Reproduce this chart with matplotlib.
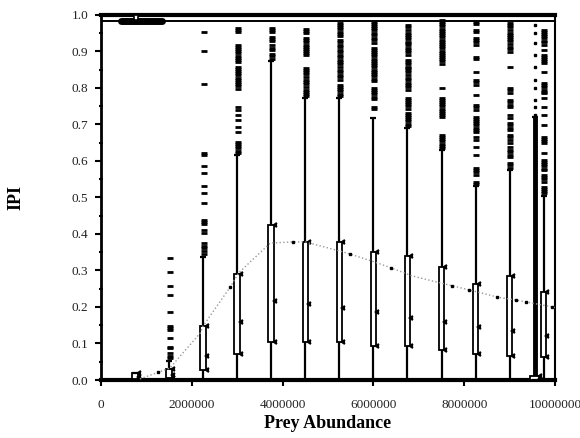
import matplotlib
matplotlib.use("Agg")
import matplotlib.pyplot as plt
from matplotlib.patches import Rectangle

plt.rcParams['font.family'] = ['Liberation Serif', 'DejaVu Serif']

# box positions (prey abundance) and quantiles
xpos = [750000, 1500000, 2250000, 3000000, 3750000, 4500000, 5250000,
        6000000, 6750000, 7500000, 8250000, 9000000, 9550000, 9750000]
q1 = [0.003, 0.006, 0.027, 0.071, 0.103, 0.103, 0.103, 0.094, 0.094, 0.081, 0.072, 0.067, 0.0, 0.062]
med = [0.008, 0.014, 0.066, 0.159, 0.216, 0.208, 0.197, 0.185, 0.171, 0.160, 0.146, 0.134, 0.004, 0.121]
q3 = [0.018, 0.030, 0.148, 0.290, 0.423, 0.377, 0.377, 0.350, 0.340, 0.308, 0.264, 0.285, 0.012, 0.241]
wlo = [0.0] * 14
whi = [0.018, 0.052, 0.338, 0.616, 0.872, 0.772, 0.772, 0.717, 0.690, 0.630, 0.530, 0.575, 0.720, 0.505]

# outliers per box
outliers = [
    [],
    [0.335, 0.297, 0.256, 0.233, 0.185, 0.148, 0.143, 0.137, 0.114, 0.091, 0.087, 0.073, 0.066, 0.059],
    [0.952, 0.902, 0.811, 0.621, 0.616, 0.586, 0.566, 0.530, 0.512, 0.484, 0.438, 0.432, 0.426,
     0.411, 0.402, 0.374, 0.368, 0.362, 0.352, 0.346],
    [0.964, 0.958, 0.953, 0.918, 0.912, 0.906, 0.900, 0.894, 0.888, 0.882, 0.876, 0.871, 0.858,
     0.852, 0.846, 0.840, 0.834, 0.828, 0.822, 0.816, 0.810, 0.804, 0.798, 0.748, 0.740, 0.726,
     0.712, 0.693, 0.679, 0.652, 0.646, 0.640, 0.634, 0.628, 0.622],
    [0.964, 0.958, 0.952, 0.940, 0.934, 0.928, 0.916, 0.910, 0.904, 0.892, 0.886, 0.880],
    [0.962, 0.956, 0.951, 0.937, 0.931, 0.925, 0.918, 0.912, 0.906, 0.900, 0.894, 0.890, 0.855,
     0.849, 0.843, 0.837, 0.830, 0.822, 0.816, 0.810, 0.803, 0.795, 0.789, 0.783, 0.777],
    [0.978, 0.972, 0.966, 0.960, 0.954, 0.948, 0.942, 0.930, 0.924, 0.918, 0.912, 0.904, 0.898,
     0.891, 0.885, 0.877, 0.871, 0.864, 0.858, 0.849, 0.843, 0.836, 0.829, 0.822, 0.808, 0.802,
     0.796, 0.790, 0.784, 0.778],
    [0.981, 0.975, 0.969, 0.963, 0.957, 0.951, 0.945, 0.937, 0.930, 0.923, 0.910, 0.904, 0.898,
     0.892, 0.886, 0.880, 0.874, 0.868, 0.862, 0.856, 0.849, 0.843, 0.837, 0.831, 0.825, 0.819,
     0.800, 0.794, 0.788, 0.782, 0.776, 0.770, 0.748, 0.742],
    [0.973, 0.966, 0.959, 0.951, 0.945, 0.939, 0.933, 0.926, 0.923, 0.917, 0.910, 0.904, 0.897,
     0.890, 0.877, 0.871, 0.865, 0.858, 0.855, 0.849, 0.842, 0.836, 0.827, 0.820, 0.814, 0.808,
     0.801, 0.795, 0.773, 0.767, 0.761, 0.755, 0.749, 0.743, 0.732, 0.726, 0.720, 0.714, 0.708,
     0.702, 0.696],
    [0.986, 0.980, 0.974, 0.968, 0.962, 0.956, 0.950, 0.944, 0.938, 0.932, 0.926, 0.920, 0.914,
     0.908, 0.902, 0.896, 0.890, 0.884, 0.878, 0.872, 0.866, 0.800, 0.773, 0.767, 0.761, 0.755,
     0.749, 0.743, 0.737, 0.731, 0.725, 0.719, 0.671, 0.665, 0.659, 0.653, 0.647, 0.641, 0.636],
    [0.981, 0.975, 0.959, 0.953, 0.937, 0.931, 0.925, 0.918, 0.885, 0.879, 0.844, 0.822, 0.815,
     0.808, 0.781, 0.753, 0.747, 0.740, 0.721, 0.715, 0.709, 0.703, 0.697, 0.691, 0.685, 0.679,
     0.666, 0.658, 0.638, 0.616, 0.581, 0.575, 0.569, 0.562, 0.542, 0.536],
    [0.978, 0.972, 0.966, 0.959, 0.951, 0.945, 0.939, 0.933, 0.927, 0.921, 0.912, 0.906, 0.899,
     0.858, 0.800, 0.793, 0.786, 0.767, 0.760, 0.754, 0.748, 0.726, 0.718, 0.704, 0.698, 0.691,
     0.685, 0.671, 0.664, 0.657, 0.649, 0.638, 0.631, 0.624, 0.617, 0.611, 0.595, 0.588, 0.581],
    [0.973, 0.951, 0.923, 0.890, 0.858, 0.822, 0.800, 0.767, 0.748, 0.726],
    [0.959, 0.953, 0.947, 0.941, 0.935, 0.929, 0.924, 0.918, 0.904, 0.890, 0.884, 0.878, 0.872,
     0.868, 0.844, 0.814, 0.808, 0.801, 0.795, 0.789, 0.786, 0.773, 0.748, 0.726, 0.699, 0.666,
     0.660, 0.654, 0.649, 0.622, 0.603, 0.597, 0.591, 0.585, 0.579, 0.575, 0.562, 0.556, 0.549,
     0.542, 0.529, 0.523, 0.517, 0.512],
]

# smoothed mean curve
curve_x = [860000, 1260000, 1520000, 2190000, 2250000, 2850000, 3030000, 3730000, 4220000,
           4500000, 5260000, 5480000, 6030000, 6390000, 6850000, 7730000, 8100000, 8730000,
           9130000, 9350000, 9940000, 10000000]
curve_y = [0.003, 0.021, 0.033, 0.129, 0.148, 0.255, 0.293, 0.375, 0.378, 0.378, 0.353, 0.345,
           0.323, 0.307, 0.285, 0.258, 0.247, 0.227, 0.219, 0.214, 0.200, 0.198]
dots_x = [1260000, 2850000, 4220000, 5480000, 6390000, 7730000, 8100000, 8730000, 9130000,
          9350000, 9940000]
dots_y = [0.021, 0.255, 0.378, 0.345, 0.307, 0.258, 0.247, 0.227, 0.219, 0.214, 0.200]

# horizontal summary near the top
top_y = 0.982
top_span = [450000, 1350000]
top_mark = 770000

fig = plt.figure(figsize=(5.8, 4.38), dpi=100)
ax = fig.add_axes([0.174, 0.1324, 0.783, 0.834])

bw = 120000
for i, x in enumerate(xpos):
    w = bw * 1.7 if i == 12 else bw
    lw_wh = 3.5 if i == 12 else 1.6
    ax.vlines(x, wlo[i], whi[i], color='black', lw=lw_wh, zorder=2)
    ax.add_patch(Rectangle((x - w / 2, q1[i]), w, q3[i] - q1[i], facecolor='white',
                           edgecolor='black', lw=1.3, zorder=3))
    ax.plot([x + w / 2] * 3, [q1[i], med[i], q3[i]], ls='none', marker=4, ms=2.5,
            mew=1.6, color='black', zorder=4)
    ax.plot([x, x], [wlo[i], whi[i]], ls='none', marker='_', ms=4, mew=1.6,
            color='black', zorder=4)
    if i == 12:
        ax.plot([x] * len(outliers[i]), outliers[i], ls='none', marker='s', ms=2,
                color='black', zorder=4)
    else:
        ax.plot([x + 15000] * len(outliers[i]), outliers[i], ls='none', marker='_', ms=5,
                mew=2, color='black', zorder=4)

ax.plot(curve_x, curve_y, ls=':', color='#999999', lw=1, zorder=5)
ax.plot(dots_x, dots_y, ls='none', marker='s', ms=1.6, color='black', zorder=6)

ax.axhline(top_y, color='black', lw=1.4, zorder=2)
ax.plot(top_span, [top_y, top_y], color='black', lw=5, solid_capstyle='round', zorder=3)
ax.add_patch(Rectangle((top_mark - 40000, 0.986), 80000, 0.014, facecolor='white',
                       edgecolor='black', lw=1.2, zorder=4))

ax.set_xlim(0, 10000000)
ax.set_ylim(0, 1.0)
ax.set_xticks([0, 2000000, 4000000, 6000000, 8000000, 10000000])
ax.set_xticklabels(['0', '2000000', '4000000', '6000000', '8000000', '10000000'])
ax.set_xticks([1000000, 3000000, 5000000, 7000000, 9000000], minor=True)
ax.set_yticks([0.0, 0.1, 0.2, 0.3, 0.4, 0.5, 0.6, 0.7, 0.8, 0.9, 1.0])
ax.set_yticklabels(['0.0', '0.1', '0.2', '0.3', '0.4', '0.5', '0.6', '0.7', '0.8', '0.9', '1.0'])
ax.set_yticks([0.05, 0.15, 0.25, 0.35, 0.45, 0.55, 0.65, 0.75, 0.85, 0.95], minor=True)
ax.tick_params(axis='both', which='major', direction='out', length=4, width=1.5,
               labelsize=9.5, colors='black', labelcolor='#222222')
ax.tick_params(axis='x', which='major', pad=10)
ax.tick_params(axis='y', which='major', pad=5)
ax.tick_params(axis='both', which='minor', direction='inout', length=3, width=1.5)

ax.spines['top'].set_linewidth(3)
ax.spines['bottom'].set_linewidth(3)
ax.spines['left'].set_linewidth(2)
ax.spines['right'].set_linewidth(1.5)

ax.set_xlabel('Prey Abundance', fontsize=13, fontweight='bold')
ax.xaxis.set_label_coords(0.5, -0.095)
ax.set_ylabel('IPI', fontsize=13, fontweight='bold')
ax.yaxis.set_label_coords(-0.168, 0.5)

fig.savefig('out.png', dpi=100)
